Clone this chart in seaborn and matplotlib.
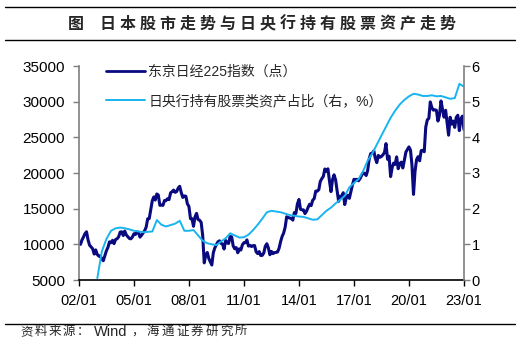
#!/usr/bin/env python3
# -*- coding: utf-8 -*-
"""Nikkei 225 vs. BOJ share of equity assets (dual axis line chart)."""

import numpy as np
import pandas as pd
import seaborn as sns
import matplotlib
matplotlib.use('Agg')
import matplotlib.pyplot as plt
import matplotlib.dates as mdates
from matplotlib.lines import Line2D
from matplotlib.font_manager import FontProperties

# %% Data

# Nikkei 225, month-end close (some months set to the intra-month extreme seen on the chart)
nikkei = [
    9998, 10587, 11024, 11492, 11763, 10621, 9877, 9619, 9383, 8640, 9215, 8579,      # 2002
    8340, 8363, 7973, 7700, 8425, 9083, 9563, 10344, 10219, 10560, 10101, 10677,      # 2003
    10784, 11042, 11715, 11762, 11236, 11859, 11326, 11082, 10824, 10771, 11031, 11489,  # 2004
    11388, 11741, 11669, 11009, 11277, 11584, 11900, 12414, 13574, 13607, 14872, 16111,  # 2005
    16650, 16206, 17060, 16906, 15467, 15505, 15457, 16141, 16128, 16399, 16274, 17226,  # 2006
    17383, 17604, 17288, 17400, 17876, 18138, 17249, 16569, 16786, 16738, 15681, 15308,  # 2007
    13592, 13603, 12526, 13850, 14339, 13481, 13377, 13073, 11260, 7400, 8512, 8860,     # 2008
    7994, 7568, 7100, 8828, 9523, 9958, 10357, 10493, 10133, 10035, 9346, 10546,         # 2009
    10198, 10126, 11090, 11057, 9769, 9383, 9537, 8824, 9369, 9202, 9937, 10229,         # 2010
    10238, 10624, 9755, 9850, 9694, 9816, 9833, 8955, 8700, 8988, 8435, 8455,            # 2011
    8803, 9723, 10084, 9521, 8543, 9007, 8695, 8840, 8870, 8928, 9446, 10395,            # 2012
    11139, 11559, 12398, 13861, 13775, 13677, 13668, 13389, 14456, 14328, 15662, 16291,  # 2013
    14915, 14841, 14828, 14304, 14632, 15162, 15621, 15425, 16174, 16414, 17460, 17451,  # 2014
    17674, 18798, 19207, 19520, 20563, 20236, 20585, 18890, 17388, 19083, 19747, 19034,  # 2015
    17518, 16027, 16759, 16666, 17235, 15576, 16569, 16887, 16450, 17425, 18308, 19114,  # 2016
    19041, 19119, 18909, 19197, 19651, 20033, 19925, 19646, 20356, 22012, 22725, 22765,  # 2017
    23098, 22068, 21454, 22468, 22202, 22305, 22554, 22865, 24120, 21920, 22351, 19500,  # 2018
    20773, 21385, 21206, 22259, 20601, 21276, 21522, 20704, 21756, 22927, 23294, 23657,  # 2019
    23205, 21143, 17000, 20194, 21878, 22288, 21710, 23140, 23185, 22977, 26434, 27444,  # 2020
    27663, 29966, 29179, 28813, 28860, 28792, 27284, 28090, 30100, 28893, 27822, 28792,  # 2021
    27002, 25300, 27821, 26848, 27280, 26393, 27802, 28092, 25937, 27587, 27969, 26095,  # 2022
]
nikkei_dates = pd.date_range('2002-01-31', periods=len(nikkei), freq='ME')

# BOJ holdings of equities as share of total assets (%), quarterly
boj_share = [
    0.05, 0.80, 1.15, 1.38,   # 2003
    1.45, 1.47, 1.45, 1.42,   # 2004
    1.38, 1.36, 1.34, 1.35,   # 2005
    1.36, 1.68, 1.55, 1.50,   # 2006
    1.54, 1.58, 1.66, 1.38,   # 2007
    1.38, 1.40, 1.25, 1.10,   # 2008
    1.03, 1.00, 0.98, 1.08,   # 2009
    1.17, 1.31, 1.25, 1.19,   # 2010
    1.20, 1.27, 1.40, 1.55,   # 2011
    1.72, 1.90, 1.94, 1.92,   # 2012
    1.90, 1.86, 1.82, 1.80,   # 2013
    1.78, 1.77, 1.73, 1.69,   # 2014
    1.70, 1.82, 1.94, 2.03,   # 2015
    2.15, 2.25, 2.36, 2.60,   # 2016
    2.72, 2.83, 3.05, 3.35,   # 2017
    3.55, 3.80, 4.05, 4.30,   # 2018
    4.55, 4.75, 4.92, 5.05,   # 2019
    5.15, 5.22, 5.20, 5.16,   # 2020
    5.16, 5.18, 5.15, 5.16,   # 2021
    5.12, 5.08, 5.10, 5.50,   # 2022
    5.42,                     # 2023
]
boj_dates = pd.date_range('2003-01-01', periods=len(boj_share), freq='QS')

# Tick labels
x_ticks = pd.to_datetime(['2002-01-01', '2005-01-01', '2008-01-01', '2011-01-01',
                          '2014-01-01', '2017-01-01', '2020-01-01', '2023-01-01'])
y_left_ticks = [5000, 10000, 15000, 20000, 25000, 30000, 35000]
y_right_ticks = [0, 1, 2, 3, 4, 5, 6]

str_title = '日本股市走势与日央行持有股票资产走势'
lst_source = ['资', '料', '来', '源', '：', 'Wind', '，', '海', '通', '证', '券', '研', '究', '所']
lbl_nikkei = '东京日经225指数（点）'
lbl_boj = '日央行持有股票类资产占比（右，%）'

# %% Style

sns.set_theme(style='white')
lst_fam = ['Liberation Sans', 'Noto Sans CJK SC', 'DejaVu Sans']
cjk = ['Noto Sans CJK SC', 'DejaVu Sans']
plt.rcParams['font.family'] = lst_fam

col_navy = '#0a0a80'
col_light = '#18b4f0'
col_axis = '#7f7f7f'

W, H = 522, 356

# %% Plot

fig = plt.figure(figsize=(W / 100, H / 100), dpi=100)
ax = fig.add_axes([79 / W, 1 - 280 / H, (464 - 79) / W, (280 - 66) / H])
ax2 = ax.twinx()

sns.lineplot(x=nikkei_dates, y=nikkei, ax=ax, color=col_navy, linewidth=2.2,
             legend=False)
sns.lineplot(x=boj_dates, y=boj_share, ax=ax2, color=col_light, linewidth=1.4,
             legend=False)

ax.set_xlim(pd.Timestamp('2002-01-01'), pd.Timestamp('2023-01-01'))
ax.set_ylim(5000, 35000)
ax2.set_ylim(0, 6)
ax.set_xticks(x_ticks)
ax.xaxis.set_major_formatter(mdates.DateFormatter('%y/%m'))
ax.set_yticks(y_left_ticks)
ax2.set_yticks(y_right_ticks)
ax.set_xlabel('')
ax.set_ylabel('')
ax2.set_ylabel('')

for a in (ax, ax2):
    a.spines['top'].set_visible(False)
    a.grid(False)
ax.spines['right'].set_visible(False)
ax2.spines['left'].set_visible(False)
ax2.spines['bottom'].set_visible(False)
ax.spines['left'].set_color(col_axis)
ax2.spines['right'].set_color(col_axis)
ax.spines['bottom'].set_color('black')
for sp in (ax.spines['left'], ax.spines['bottom'], ax2.spines['right']):
    sp.set_linewidth(1.2)

ax.tick_params(axis='x', bottom=True, direction='out', length=4, width=1,
               color='black', pad=6, labelsize=10.5, labelcolor='black')
ax.tick_params(axis='y', left=True, direction='out', length=4, width=1,
               color=col_axis, pad=6, labelsize=11, labelcolor='black')
ax2.tick_params(axis='y', right=True, direction='out', length=4, width=1,
                color=col_axis, pad=1.5, labelsize=10.5, labelcolor='black')

# legend
handles = [Line2D([], [], color=col_navy, linewidth=2.0),
           Line2D([], [], color=col_light, linewidth=1.4)]
leg = ax.legend(handles, [lbl_nikkei, lbl_boj], loc='upper left',
                bbox_to_anchor=(0.07, 1.005), frameon=False, handlelength=2.8,
                handletextpad=0.25, labelspacing=1.1, borderpad=0,
                borderaxespad=0, prop=FontProperties(family=lst_fam, size=10))

# title, drawn character by character to keep the wide spacing
fig.text(75.5 / W, 1 - 23.5 / H, '图', family=cjk, weight='bold', fontsize=11.5,
         ha='center', va='center')
for i, ch in enumerate(str_title):
    fig.text((107.5 + 20 * i) / W, 1 - 23.5 / H, ch, family=cjk, weight='bold',
             fontsize=11.5, ha='center', va='center')

# source line
x_src = [20, 34.3, 48.6, 62.9, 77.2, 94, 131, 146.7, 161.4, 176.1, 190.8,
         205.5, 220.2, 234.9]
for tok, xp in zip(lst_source, x_src):
    fs = 10.5 if tok == 'Wind' else 9
    fig.text(xp / W, 1 - 332 / H, tok, family=lst_fam, fontsize=fs,
             ha='left', va='center')

# horizontal rules
for yp in (7, 40, 324):
    fig.add_artist(Line2D([5 / W, 515 / W], [1 - yp / H, 1 - yp / H],
                          transform=fig.transFigure, color='black', linewidth=1.0))

fig.savefig('out.png', dpi=100)
